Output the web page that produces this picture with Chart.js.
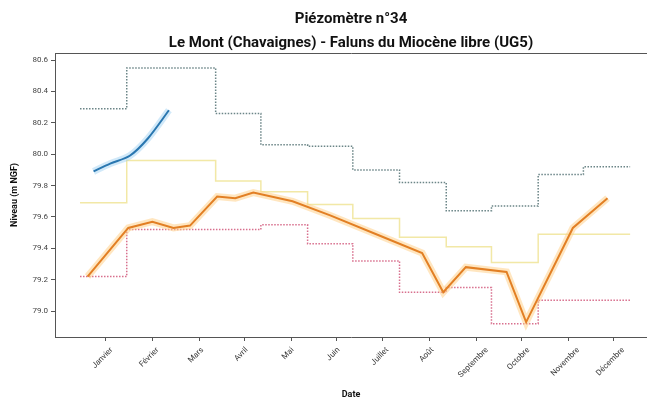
<!DOCTYPE html>
<html>
<head>
<meta charset="utf-8">
<script src="https://cdn.jsdelivr.net/npm/chart.js@4"></script>
<style>
  html, body { margin: 0; padding: 0; background: #fff; overflow: hidden; }
  #wrap { width: 647px; height: 401px; }
  canvas { display: block; }
</style>
</head>
<body>
<div id="wrap"><canvas id="chart" width="647" height="401"></canvas></div>
<script>
// month boundaries (day of year) for the monthly step series
const monthStartDays = [0, 31, 59, 90, 120, 151, 181, 212, 243, 273, 304, 334, 365];
const monthTickDays = [17, 48, 79, 109, 140, 170, 201, 232, 263, 293, 324, 354];
const monthLabels = ["Janvier", "Février", "Mars", "Avril", "Mai", "Juin", "Juillet", "Août", "Septembre", "Octobre", "Novembre", "Décembre"];
const yTicks = [79.0, 79.2, 79.4, 79.6, 79.8, 80.0, 80.2, 80.4, 80.6];

// monthly statistics
const maxLevels = [80.29, 80.55, 80.55, 80.26, 80.06, 80.05, 79.90, 79.82, 79.64, 79.67, 79.87, 79.92];
const meanLevels = [79.69, 79.96, 79.96, 79.83, 79.76, 79.68, 79.59, 79.47, 79.41, 79.31, 79.49, 79.49];
const minLevels = [79.22, 79.52, 79.52, 79.52, 79.55, 79.43, 79.32, 79.12, 79.15, 78.92, 79.07, 79.07];

// previous year
const prevDays = [5, 32, 48, 62, 73, 91, 103, 115, 141, 166, 199, 227, 241, 256, 283, 296, 327, 350];
const prevLevels = [79.22, 79.53, 79.57, 79.53, 79.545, 79.73, 79.72, 79.755, 79.70, 79.61, 79.48, 79.37, 79.12, 79.28, 79.25, 78.93, 79.53, 79.72];

// current year
const curDays = [9, 20, 33, 45, 59];
const curLevels = [79.89, 79.94, 79.99, 80.10, 80.28];

const stepData = vals => monthStartDays.map((d, i) => ({ x: d, y: vals[Math.min(i, vals.length - 1)] }));
const lineData = (days, vals) => days.map((d, i) => ({ x: d, y: vals[i] }));

// rotated month labels, centred under each tick like the original
const monthText = {
  id: "monthText",
  afterDraw(chart) {
    const ctx = chart.ctx;
    const xs = chart.scales.x;
    const area = chart.chartArea;
    ctx.save();
    // no right spine in the original (cut off by the image edge)
    ctx.fillStyle = "#fff";
    ctx.fillRect(area.right - 6, area.top + 1, 12, area.bottom - area.top - 1.5);
    ctx.font = "8px Roboto";
    ctx.fillStyle = "#333";
    ctx.textAlign = "center";
    ctx.textBaseline = "middle";
    monthTickDays.forEach((d, i) => {
      const px = xs.getPixelForValue(d) - 3;
      const w = ctx.measureText(monthLabels[i]).width;
      const cy = xs.top + 9 + (w + 8) * 0.3536;
      ctx.save();
      ctx.translate(px, cy);
      ctx.rotate(-Math.PI / 4);
      ctx.fillText(monthLabels[i], 0, 0);
      ctx.restore();
    });
    ctx.restore();
  }
};

new Chart(document.getElementById("chart"), {
  type: "line",
  data: {
    datasets: [
      { data: lineData(curDays, curLevels), borderColor: "#2a77b0", borderWidth: 2, tension: 0.3, pointRadius: 0, order: 1 },
      { data: lineData(curDays, curLevels), borderColor: "rgba(140,200,240,0.4)", borderWidth: 7, tension: 0.3, pointRadius: 0, order: 2 },
      { data: lineData(prevDays, prevLevels), borderColor: "#e27f24", borderWidth: 2, pointRadius: 0, order: 3 },
      { data: lineData(prevDays, prevLevels), borderColor: "rgba(255,205,130,0.5)", borderWidth: 7, pointRadius: 0, order: 4 },
      { data: stepData(maxLevels), stepped: "before", borderColor: "#6b8587", borderWidth: 1.5, borderDash: [1.5, 1.5], pointRadius: 0, order: 5 },
      { data: stepData(minLevels), stepped: "before", borderColor: "#d8708e", borderWidth: 1.5, borderDash: [1.5, 1.5], pointRadius: 0, order: 6 },
      { data: stepData(meanLevels), stepped: "before", borderColor: "rgba(240,228,150,0.85)", borderWidth: 1.5, pointRadius: 0, order: 7 }
    ]
  },
  options: {
    responsive: false,
    animation: false,
    layout: { padding: 0 },
    plugins: {
      legend: { display: false },
      tooltip: { enabled: false },
      title: {
        display: true,
        fullSize: false,
        text: ["Piézomètre n°34", "Le Mont (Chavaignes) - Faluns du Miocène libre (UG5)"],
        font: { family: "Roboto", size: 15, weight: "bold", lineHeight: 1.6 },
        color: "#111",
        padding: { top: 7, bottom: -2 }
      }
    },
    scales: {
      x: {
        type: "linear",
        min: -16.6,
        max: 376.2,
        afterBuildTicks: s => { s.ticks = monthTickDays.map(v => ({ value: v })); },
        afterFit: s => { s.height = 64; },
        ticks: { display: false },
        grid: { drawOnChartArea: false, drawTicks: true, tickLength: 4, color: "#555" },
        border: { display: true, color: "#555", width: 1 },
        title: { display: true, text: "Date", font: { family: "Roboto", size: 9, weight: "bold" }, color: "#111", padding: { top: 0, bottom: 1 } }
      },
      xTop: {
        type: "linear",
        position: "top",
        min: -16.6,
        max: 376.2,
        afterFit: s => { s.height = 0; },
        ticks: { display: false },
        grid: { display: false },
        border: { display: true, color: "#555", width: 1 }
      },
      y: {
        min: 78.835,
        max: 80.645,
        afterBuildTicks: s => { s.ticks = yTicks.map(v => ({ value: v })); },
        afterFit: s => { s.width = 55; },
        ticks: { font: { family: "Roboto", size: 8 }, color: "#444", padding: 3, callback: v => v.toFixed(1) },
        grid: { drawOnChartArea: false, drawTicks: true, tickLength: 4, color: "#555" },
        border: { display: true, color: "#555", width: 1 },
        title: { display: true, text: "Niveau (m NGF)", font: { family: "Roboto", size: 9, weight: "bold" }, color: "#111", padding: { top: 9, bottom: 0 } }
      }
    }
  },
  plugins: [monthText]
});
</script>
</body>
</html>
